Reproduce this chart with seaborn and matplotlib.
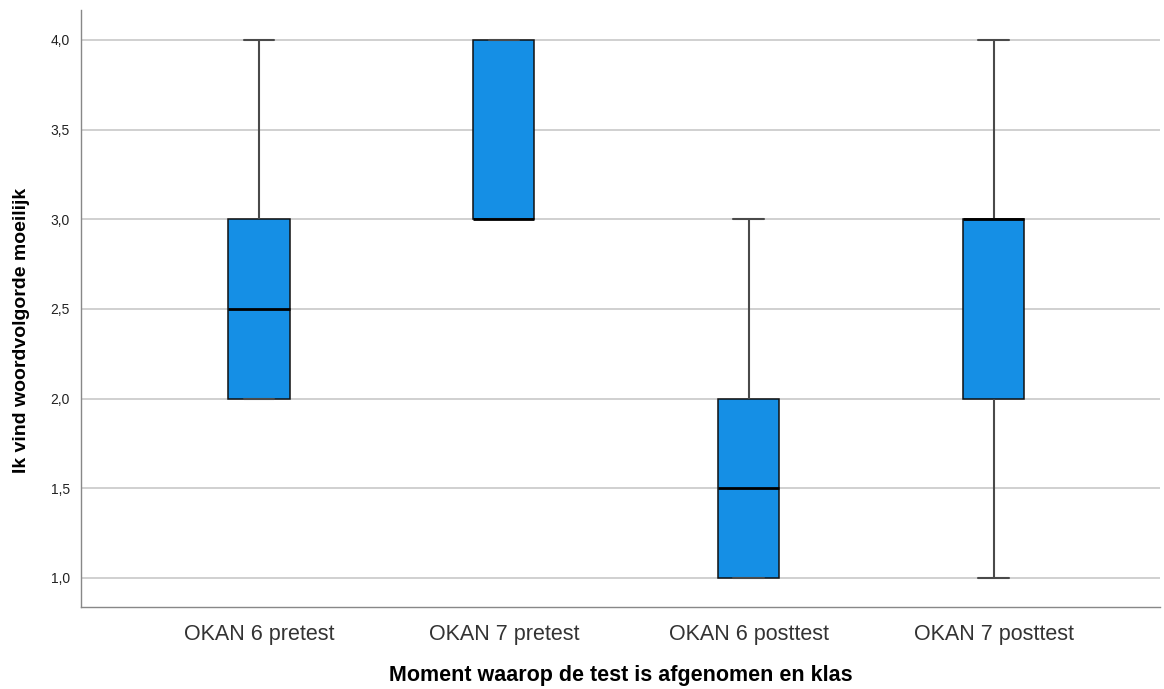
import matplotlib
matplotlib.use("Agg")
import matplotlib.pyplot as plt
import seaborn as sns
import pandas as pd
from matplotlib.ticker import FuncFormatter

# Data (individual responses per group, chosen to reproduce the box statistics shown)
categories = ["OKAN 6 pretest", "OKAN 7 pretest", "OKAN 6 posttest", "OKAN 7 posttest"]
okan6_pre = [2, 2, 2, 3, 3, 4]
okan7_pre = [3, 3, 3, 4, 4]
okan6_post = [1, 1, 1, 2, 2, 3]
okan7_post = [1, 2, 3, 3, 4]
yticks = [1.0, 1.5, 2.0, 2.5, 3.0, 3.5, 4.0]

rows = []
for cat, vals in zip(categories, [okan6_pre, okan7_pre, okan6_post, okan7_post]):
    for v in vals:
        rows.append({"group": cat, "score": v})
df = pd.DataFrame(rows)

sns.set_theme(style="white")
plt.rcParams["font.family"] = ["Liberation Sans", "DejaVu Sans"]

fig = plt.figure(figsize=(11.64, 6.89), dpi=100)
ax = fig.add_axes([81 / 1164, 1 - 607 / 689, (1160 - 81) / 1164, (607 - 10) / 689])

sns.boxplot(data=df, x="group", y="score", order=categories, ax=ax,
            color="#158fe5", saturation=1, width=0.25, showfliers=False,
            linecolor="black", linewidth=1,
            boxprops=dict(facecolor="#158fe5", edgecolor="#111111", linewidth=1.1),
            whiskerprops=dict(color="#4a4a4a", linewidth=1.5),
            capprops=dict(color="#4a4a4a", linewidth=1.5),
            medianprops=dict(color="black", linewidth=2))

ax.set_ylim(0.838, 4.167)
ax.set_xlim(-0.727, 3.68)
ax.set_yticks(yticks)
ax.yaxis.set_major_formatter(FuncFormatter(lambda v, p: f"{v:.1f}".replace(".", ",")))
ax.yaxis.grid(True, color="#c8c8c8", linewidth=1.2)
ax.set_axisbelow(True)
for s in ["top", "right"]:
    ax.spines[s].set_visible(False)
for s in ["left", "bottom"]:
    ax.spines[s].set_color("#888888")
    ax.spines[s].set_linewidth(1)

ax.tick_params(axis="y", labelsize=10, colors="#222222", length=0, pad=8)
ax.tick_params(axis="x", labelsize=15.5, colors="#333333", length=0, pad=12)
ax.set_xlabel("Moment waarop de test is afgenomen en klas", fontsize=15.5, fontweight="bold", color="black")
ax.set_ylabel("Ik vind woordvolgorde moeilijk", fontsize=14, fontweight="bold", color="black")
ax.xaxis.set_label_coords(0.5, (607 - 676) / 597)
ax.xaxis.label.set_va("center")
ax.yaxis.set_label_coords((22 - 81) / 1079, (607 - 330) / 597)
ax.yaxis.label.set_va("center")

fig.savefig("out.png", dpi=100)
